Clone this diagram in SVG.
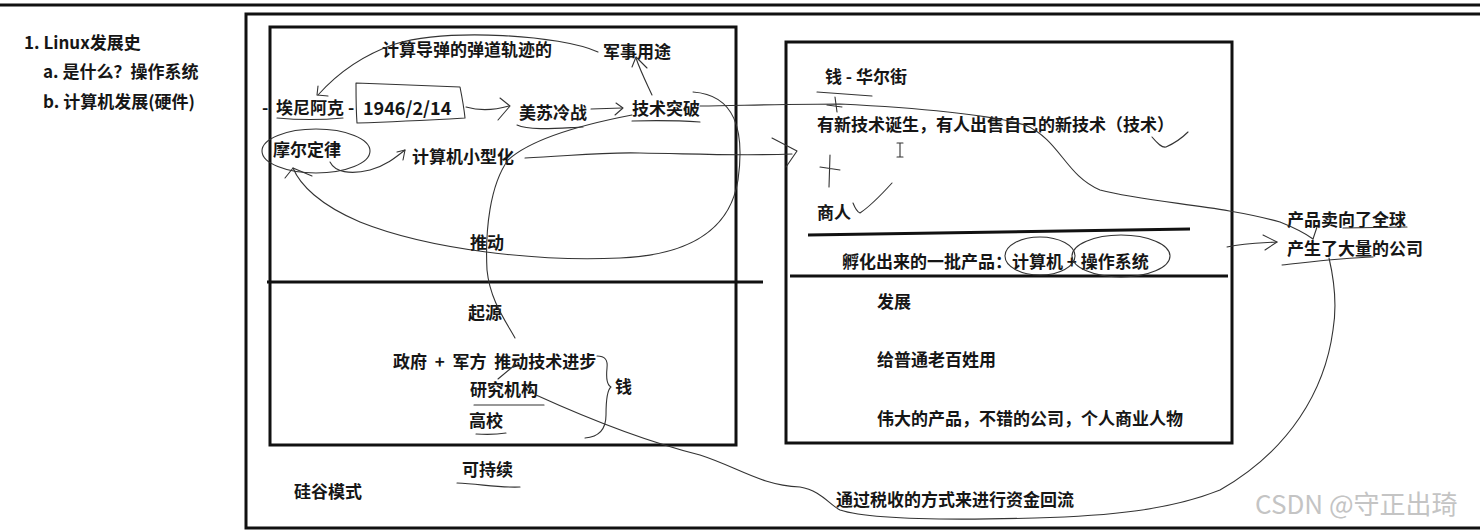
<svg xmlns="http://www.w3.org/2000/svg" width="1480" height="531" viewBox="0 0 1480 531">
<style>
.t{font-family:"Noto Sans CJK SC","Liberation Sans",sans-serif;font-weight:700;font-size:17px;fill:#161616}
.side{font-size:17px}
.b{fill:none;stroke:#111;stroke-width:3}
.s{fill:none;stroke:#333;stroke-width:1.1;stroke-linecap:round;stroke-linejoin:round}
.wm{font-family:"Noto Sans CJK SC","Liberation Sans",sans-serif;font-weight:400;font-size:26px;fill:#c4c4c4}
</style>
<rect width="1480" height="531" fill="#fff"/>
<g id="frame">
<path class="b" d="M0,5 H1480" stroke-width="2.5"/>
<path class="b" d="M1480,14 H246 V528 H1480"/>
<rect class="b" x="270" y="27" width="466" height="418"/>
<path class="b" d="M267,282 H763"/>
<rect class="b" x="786" y="42" width="446" height="401"/>
<path class="b" d="M808,235 L1190,229"/>
<path class="b" d="M790,276 H1228"/>
</g>
<g id="sidebar">
<text class="t side" x="24" y="49">1. Linux发展史</text>
<text class="t side" x="43" y="78">a. 是什么？操作系统</text>
<text class="t side" x="43" y="108">b. 计算机发展(硬件)</text>
</g>
<g id="node-missile"><text class="t" x="382" y="56">计算导弹的弹道轨迹的</text></g>
<g id="node-military"><text class="t" x="603" y="58">军事用途</text></g>
<g id="node-eniac"><text class="t" x="262" y="114">-</text><text class="t" x="276" y="114">埃尼阿克</text><text class="t" x="348" y="114">-</text></g>
<g id="node-date"><path class="s" d="M356,83 C390,84 430,86 460,87 C462,97 464,108 465,118 C430,120 390,122 357,123 C356,110 356,96 356,83"/><text class="t" x="363" y="115" style="font-size:18px">1946/2/14</text></g>
<g id="node-coldwar"><text class="t" x="519" y="119">美苏冷战</text></g>
<g id="node-breakthrough"><text class="t" x="632" y="115">技术突破</text></g>
<g id="node-moore"><ellipse class="s" cx="316" cy="151" rx="54" ry="22"/><text class="t" x="273" y="156">摩尔定律</text></g>
<g id="node-mini"><text class="t" x="412" y="163">计算机小型化</text></g>
<g id="node-push"><text class="t" x="470" y="249">推动</text></g>
<g id="node-origin"><text class="t" x="468" y="319">起源</text></g>
<g id="node-gov"><text class="t" x="393" y="368">政府&#160;&#160;+&#160;&#160;军方&#160;&#160;推动技术进步</text></g>
<g id="node-research"><text class="t" x="470" y="396">研究机构</text></g>
<g id="node-univ"><text class="t" x="469" y="427">高校</text></g>
<g id="node-money"><text class="t" x="615" y="393">钱</text></g>
<g id="node-sustain"><text class="t" x="462" y="476">可持续</text></g>
<g id="node-silicon"><text class="t" x="294" y="498">硅谷模式</text></g>
<g id="node-wallst"><text class="t" x="825" y="83">钱 - 华尔街</text></g>
<g id="node-newtech"><text class="t" x="817" y="131">有新技术诞生，有人出售自己的新技术（技术）</text></g>
<g id="node-merchant"><text class="t" x="817" y="219">商人</text></g>
<g id="node-products"><text class="t" x="842" y="268">孵化出来的一批产品：计算机 + 操作系统</text><ellipse class="s" cx="1040" cy="256" rx="35" ry="19"/><ellipse class="s" cx="1121" cy="256" rx="49" ry="21"/></g>
<g id="node-develop"><text class="t" x="877" y="308">发展</text></g>
<g id="node-people"><text class="t" x="877" y="366">给普通老百姓用</text></g>
<g id="node-great"><text class="t" x="877" y="425">伟大的产品，不错的公司，个人商业人物</text></g>
<g id="node-global"><text class="t" x="1287" y="226">产品卖向了全球</text></g>
<g id="node-companies"><text class="t" x="1287" y="255">产生了大量的公司</text></g>
<g id="node-tax"><text class="t" x="836" y="506">通过税收的方式来进行资金回流</text></g>
<g id="connectors">
<path class="s" d="M598,52 C560,35 450,28 395,44 C360,56 335,76 318,95"/>
<path class="s" d="M318,86 L317,95 L328,96"/>
<path class="s" d="M652,95 C646,82 640,70 636,58"/>
<path class="s" d="M632,67 L636,57 L647,68"/>
<path class="s" d="M466,107 C480,111 495,110 509,106"/>
<path class="s" d="M500,98 L510,106 L498,120"/>
<path class="s" d="M591,109 L622,108"/>
<path class="s" d="M616,103 L623,108 L615,115"/>
<path class="s" d="M277,118 Q310,121 343,118"/>
<path class="s" d="M517,125 C530,131 560,128 583,127"/>
<path class="s" d="M632,121 Q670,120 700,122"/>
<path class="s" d="M330,162 C335,172 350,175 370,170 C385,166 395,158 405,150"/>
<path class="s" d="M397,152 L405,150 L403,160"/>
<path class="s" d="M693,92 C735,95 745,130 738,180 C730,230 690,255 620,258 C540,262 430,250 360,222 C320,205 300,185 293,168"/>
<path class="s" d="M285,178 L293,168 L312,176"/>
<path class="s" d="M632,115 C580,125 530,140 508,160 C490,185 485,230 487,270 C490,300 505,320 515,338"/>
<path class="s" d="M516,364 L498,379"/>
<path class="s" d="M525,158 C570,156 600,152 640,153 C700,154 740,156 792,154"/>
<path class="s" d="M772,138 L797,151 L786,167"/>
<path class="s" d="M700,106 C760,105 800,104 840,104 C900,107 980,112 1025,125 C1060,140 1065,175 1100,190 C1150,203 1220,205 1280,222 C1295,228 1305,233 1313,239"/>
<path class="s" d="M1317,227 L1313,239"/>
<path class="s" d="M817,92 L872,96"/>
<path class="s" d="M835,97 L837,112 M827,105 L842,107"/>
<path class="s" d="M830,155 L829,187 M820,167 L840,170"/>
<path class="s" d="M1152,137 C1158,144 1162,148 1166,147 C1175,143 1182,138 1188,132"/>
<path class="s" d="M853,203 C855,208 857,212 860,213 C872,205 882,194 892,183"/>
<path class="s" d="M897,143 H903 M900,143 V157 M897,157 H903" stroke="#666"/>
<path class="s" d="M1227,247 C1245,243 1260,243 1277,242"/>
<path class="s" d="M1263,235 L1277,242 L1265,250"/>
<path class="s" d="M1343,228 L1407,227"/>
<path class="s" d="M1282,265 C1310,262 1340,258 1373,257"/>
<path class="s" d="M536,395 C580,415 640,440 700,455 C740,468 760,485 800,487 C820,490 830,505 840,510 C870,520 960,520 1035,518 C1110,516 1170,510 1220,490 C1290,450 1325,390 1333,330 C1338,300 1333,275 1329,258"/>
<path class="s" d="M474,405 L544,405"/>
<path class="s" d="M476,434 C490,435 500,434 506,433"/>
<path class="s" d="M457,483 C480,484 500,488 520,487"/>
<path class="s" d="M597,356 C605,356 608,360 607,368 C606,378 607,385 611,387 C607,390 606,400 606,415 C606,430 598,437 585,438"/>
</g>
<text class="wm" x="1255" y="514">CSDN @守正出琦</text>
</svg>
